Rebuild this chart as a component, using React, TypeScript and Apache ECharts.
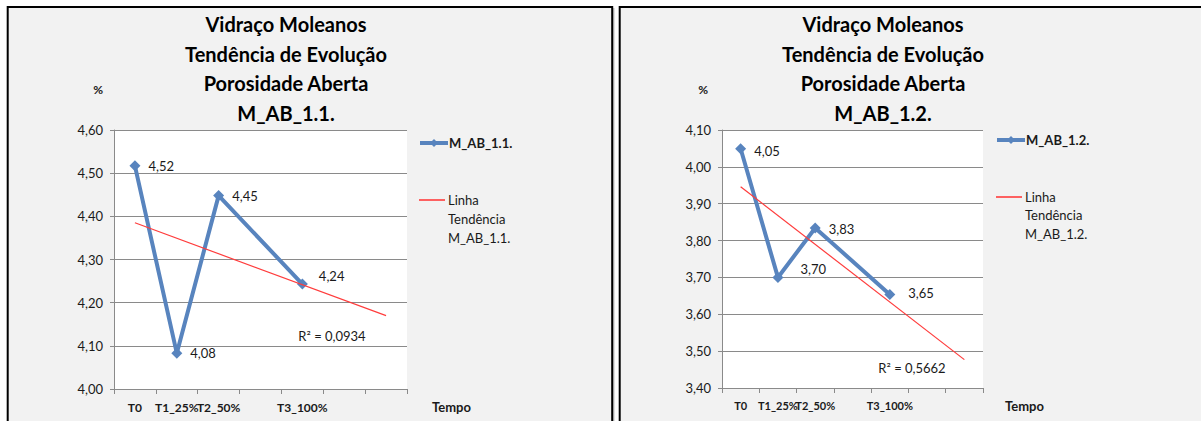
import React, { useEffect, useRef } from 'react';
import * as echarts from 'echarts';

const categories = ['T0', 'T1_25%', 'T2_50%', '', 'T3_100%', '', ''];

const nameA = 'M_AB_1.1.';
const valuesA = [4.517, 4.083, 4.448, null, 4.243, null, null];
const trendA = [4.385, null, null, null, null, null, 4.17];
const r2A = 'R² = 0,0934';
const yRangeA = [4.0, 4.6];

const nameB = 'M_AB_1.2.';
const valuesB = [4.049, 3.7, 3.834, null, 3.654, null, null];
const trendB = [3.946, null, null, null, null, null, 3.477];
const r2B = 'R² = 0,5662';
const yRangeB = [3.4, 4.1];

const titleLines = ['Vidraço Moleanos', 'Tendência de Evolução', 'Porosidade Aberta'];
const xAxisName = 'Tempo';
const yAxisName = '%';

// label nudges (style only)
const labelNudgeA = [[0, 0], [0, 0], [0, 0], [0, 0], [3, -8], [0, 0], [0, 0]];
const labelNudgeB = [[0, 2], [9, -8], [0, 1], [0, 0], [5, -1], [0, 0], [0, 0]];

const FONT = 'Lato, "Open Sans", sans-serif';
const BLUE = '#5884be';
const RED = '#ff3c3c';
const GRAY = '#8a8a8a';

const fmt = (v: number) => v.toFixed(2).replace('.', ',');

function App() {
  const ref = useRef<HTMLDivElement>(null);
  useEffect(() => {
    if (!ref.current) return;
    const chart = echarts.init(ref.current, null, { renderer: 'svg' });

    const makeTitle = (cx: number, name: string) => ({
      left: cx,
      top: 9,
      padding: 0,
      textAlign: 'center',
      text:
        titleLines.map((l) => `{a|${l}}`).join('\n') + `\n{b|${name}}`,
      textStyle: {
        rich: {
          a: { fontFamily: FONT, fontSize: 20, fontWeight: 'bold', color: '#000', lineHeight: 29.7 },
          b: { fontFamily: FONT, fontSize: 20, fontWeight: 'bold', color: '#000', lineHeight: 29.7 },
        },
      },
    });

    const makeX = (gi: number, labelSize: number) => ({
      type: 'category',
      gridIndex: gi,
      data: categories,
      boundaryGap: true,
      axisLine: { show: true, lineStyle: { color: GRAY, width: 1 } },
      axisTick: { show: true, length: 5, alignWithLabel: false, interval: 0, lineStyle: { color: GRAY } },
      axisLabel: {
        interval: 0,
        margin: 12,
        fontFamily: FONT,
        fontSize: labelSize,
        fontWeight: 'bold',
        color: '#1a1a1a',
      },
      splitLine: { show: false },
      name: xAxisName,
      nameLocation: 'end',
      nameGap: gi === 0 ? 25 : 22,
      nameTextStyle: {
        fontFamily: FONT,
        fontSize: 13,
        fontWeight: 'bold',
        color: '#1a1a1a',
        align: 'left',
        verticalAlign: 'top',
        padding: [11, 0, 0, 0],
      },
    });

    const makeY = (gi: number, range: number[], padRight: number) => ({
      type: 'value',
      gridIndex: gi,
      min: range[0],
      max: range[1],
      interval: 0.1,
      axisLine: { show: true, lineStyle: { color: GRAY, width: 1 } },
      axisTick: { show: true, length: 4, lineStyle: { color: GRAY } },
      axisLabel: {
        margin: 11,
        fontFamily: FONT,
        fontSize: 13,
        color: '#1a1a1a',
        formatter: (v: number) => fmt(v),
      },
      splitLine: { show: true, lineStyle: { color: GRAY, width: 1 } },
      name: yAxisName,
      nameLocation: 'end',
      nameGap: 35,
      nameTextStyle: {
        fontFamily: FONT,
        fontSize: 12,
        fontWeight: 'bold',
        color: '#1a1a1a',
        align: 'right',
        padding: [0, padRight, 0, 0],
      },
    });

    const makeMain = (gi: number, name: string, values: (number | null)[], nudges: number[][]) => ({
      type: 'line',
      name,
      xAxisIndex: gi,
      yAxisIndex: gi,
      connectNulls: true,
      symbol: 'diamond',
      symbolSize: 11,
      lineStyle: { color: BLUE, width: 4 },
      itemStyle: { color: BLUE },
      z: 3,
      data: values.map((v, i) =>
        v === null
          ? null
          : { value: v, label: { offset: nudges[i] } }
      ),
      label: {
        show: true,
        position: 'right',
        distance: 8,
        fontFamily: FONT,
        fontSize: 13,
        color: '#1a1a1a',
        formatter: (p: any) => fmt(p.value as number),
      },
    });

    const makeTrend = (gi: number, name: string, values: (number | null)[]) => ({
      type: 'line',
      name,
      xAxisIndex: gi,
      yAxisIndex: gi,
      connectNulls: true,
      symbol: 'none',
      lineStyle: { color: RED, width: 1.2 },
      itemStyle: { color: RED },
      z: 4,
      data: values,
    });

    const trendNameA = `Linha Tendência ${nameA}`;
    const trendNameB = `Linha Tendência ${nameB}`;

    const legendMain = (left: number, cy: number, name: string) => ({
      data: [name],
      left,
      top: cy - 8,
      padding: 0,
      orient: 'vertical',
      itemWidth: 28,
      itemHeight: 10,
      lineStyle: { width: 4 },
      textStyle: { fontFamily: FONT, fontSize: 13, fontWeight: 'bold', color: '#1a1a1a', lineHeight: 16, padding: [0, 0, 0, -4] },
    });
    const legendTrend = (left: number, cy: number, lh: number, name: string, label: string) => ({
      data: [{ name, icon: 'rect' }],
      left,
      top: cy - 2.5 * lh,
      padding: 0,
      orient: 'vertical',
      itemWidth: 26,
      itemHeight: 1.6,
      formatter: () => '\n\nLinha\nTendência\n' + label,
      textStyle: { fontFamily: FONT, fontSize: 13, color: '#1a1a1a', lineHeight: lh, padding: [0, 0, 0, -2] },
    });

    chart.setOption({
      animation: false,
      backgroundColor: '#ffffff',
      title: [makeTitle(286, nameA), makeTitle(883, nameB)],
      grid: [
        { left: 114, top: 130, width: 293, height: 259, show: true, backgroundColor: '#ffffff', borderWidth: 0 },
        { left: 722, top: 130, width: 261, height: 258, show: true, backgroundColor: '#ffffff', borderWidth: 0 },
      ],
      xAxis: [makeX(0, 12), makeX(1, 11)],
      yAxis: [makeY(0, yRangeA, 11), makeY(1, yRangeB, 14)],
      legend: [
        legendMain(418, 143, nameA),
        legendTrend(419, 200, 19, trendNameA, nameA),
        legendMain(995, 140, nameB),
        legendTrend(996, 197, 18.5, trendNameB, nameB),
      ],
      series: [
        makeMain(0, nameA, valuesA, labelNudgeA),
        makeTrend(0, trendNameA, trendA),
        makeMain(1, nameB, valuesB, labelNudgeB),
        makeTrend(1, trendNameB, trendB),
      ],
      graphic: [
        {
          type: 'rect',
          z: -10,
          shape: { x: 7.7, y: 7, width: 604.5, height: 440 },
          style: { fill: '#f2f2f2', stroke: '#000', lineWidth: 2 },
          silent: true,
        },
        {
          type: 'line',
          z: -9,
          shape: { x1: 613.7, y1: 8, x2: 613.7, y2: 421 },
          style: { stroke: '#9a9a9a', lineWidth: 1.2 },
          silent: true,
        },
        {
          type: 'rect',
          z: -10,
          shape: { x: 619.7, y: 7, width: 620, height: 440 },
          style: { fill: '#f2f2f2', stroke: '#000', lineWidth: 2 },
          silent: true,
        },
        {
          type: 'text',
          z: 10,
          x: 332,
          y: 336,
          style: { text: r2A, fontFamily: FONT, fontSize: 13, fill: '#1a1a1a', align: 'center', verticalAlign: 'middle' },
        },
        {
          type: 'text',
          z: 10,
          x: 912,
          y: 368,
          style: { text: r2B, fontFamily: FONT, fontSize: 13, fill: '#1a1a1a', align: 'center', verticalAlign: 'middle' },
        },
      ],
    });
    return () => chart.dispose();
  }, []);
  return (
    <div
      ref={ref}
      style={{ position: 'fixed', left: 0, top: 0, width: 1201, height: 421 }}
    />
  );
}

export default App;
